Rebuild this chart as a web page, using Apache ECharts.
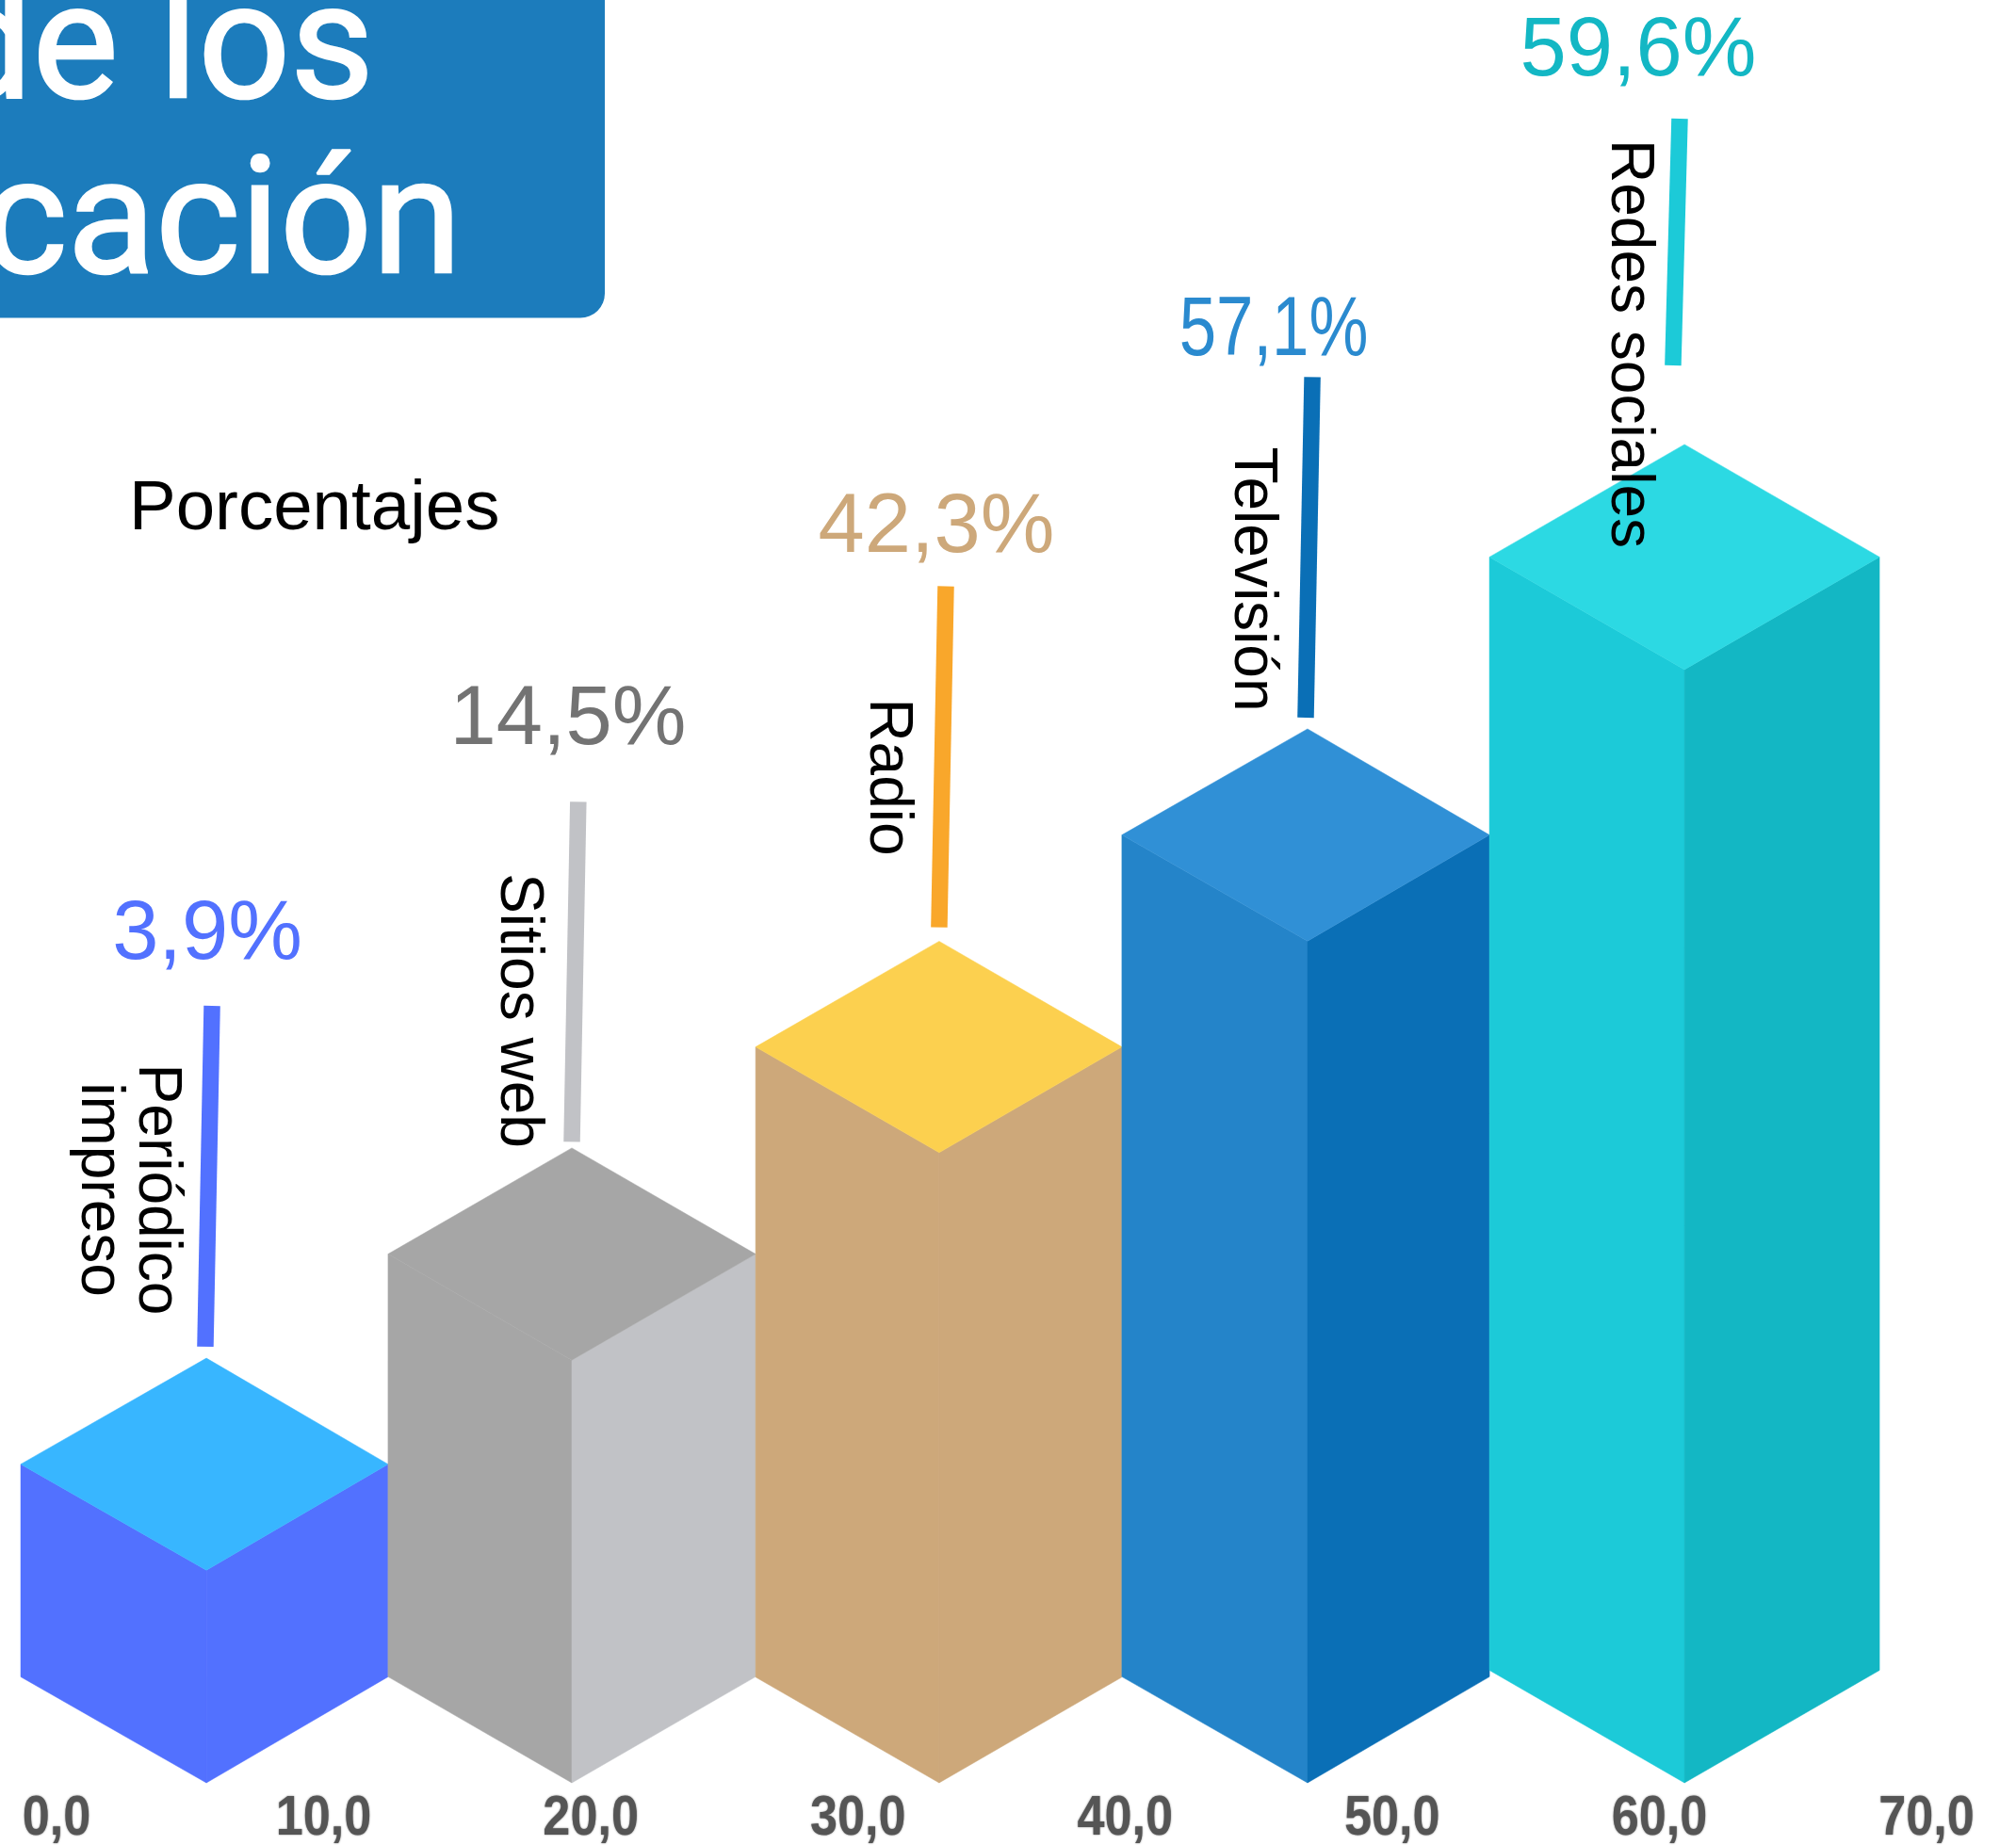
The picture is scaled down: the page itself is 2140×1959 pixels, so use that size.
<!DOCTYPE html>
<html>
<head>
<meta charset="utf-8">
<title>Medios de comunicación</title>
<script src="https://cdn.jsdelivr.net/npm/echarts@6/dist/echarts.min.js"></script>
<style>
  html, body { margin: 0; background: #fff; }
  #chart { width: 2140px; height: 1959px; }
</style>
</head>
<body>
<div id="chart"></div>
<script>
// datos
const categories = ['Periódico\nimpreso', 'Sitios web', 'Radio', 'Televisión', 'Redes sociales']
const shares = ['3,9%', '14,5%', '42,3%', '57,1%', '59,6%']
const tickValues = [0, 10, 20, 30, 40, 50, 60, 70]
const tickLabels = ['0,0', '10,0', '20,0', '30,0', '40,0', '50,0', '60,0', '70,0']
// bordes, arista frontal y alturas de las columnas, en unidades de los ejes
const columnEdges = [-1.34, 12.41, 26.17, 39.88, 53.64, 68.24]
const columnFronts = [5.61, 19.29, 33.04, 46.83, 60.94]
const columnHeights = [15.9, 23.77, 31.51, 39.46, 50.11]
const leaderFootX = [5.57, 19.29, 33.04, 46.76, 60.51]
const leaderHeadX = [5.82, 19.53, 33.29, 47.01, 60.76]
const leaderFootY = [16.33, 24.0, 32.03, 39.88, 53.07]
const leaderHeadY = [29.09, 36.73, 44.8, 52.63, 62.31]

// colores de cada columna
const leftColors = ['#5271ff', '#a6a6a6', '#cda87a', '#2484c9', '#1ccad8']
const rightColors = ['#5271ff', '#c1c2c6', '#cda87a', '#0a6fb6', '#13b7c4']
const topColors = ['#38b6ff', '#a6a6a6', '#fcd04f', '#3090d6', '#2cd9e3']
const leaderColors = ['#5271ff', '#c1c2c6', '#f9a72b', '#0a6fb6', '#1ccad8']
const shareColors = ['#5271ff', '#737373', '#cda87a', '#2a8acf', '#13b7c4']

// sitio de los textos sueltos (px)
const shareSpots = [[220, 994], [603, 766], [994, 562], [1352, 353], [1739, 56]]
const nameSpots = [[135, 1263], [550, 1073], [942, 825], [1329, 615], [1729, 365]]

const sansFont = '"Liberation Sans", Arial, sans-serif'
const ISO_SLOPE = Math.tan(Math.PI / 6)

function face (points, color) {
  return {
    type: 'polygon',
    shape: { points },
    style: { fill: color, stroke: color, lineWidth: 0.5 },
  }
}

function renderColumn (params, api) {
  const i = params.dataIndex
  const left = api.coord([api.value(0), 0])[0]
  const right = api.coord([api.value(1), 0])[0]
  const mid = api.coord([api.value(2), 0])[0]
  const depth = (right - left) / 2 * ISO_SLOPE
  const base = api.coord([0, 0])[1]
  const top = api.coord([0, api.value(3)])[1]
  return {
    type: 'group',
    children: [
      face([[left, top + depth], [mid, top + depth * 2], [mid, base], [left, base - depth]], leftColors[i]),
      face([[mid, top + depth * 2], [right, top + depth], [right, base - depth], [mid, base]], rightColors[i]),
      face([[mid, top], [right, top + depth], [mid, top + depth * 2], [left, top + depth]], topColors[i]),
    ],
  }
}

function renderLeader (params, api) {
  const foot = api.coord([api.value(0), api.value(1)])
  const head = api.coord([api.value(2), api.value(3)])
  return {
    type: 'line',
    shape: { x1: foot[0], y1: foot[1], x2: head[0], y2: head[1] },
    style: { stroke: leaderColors[params.dataIndex], lineWidth: 17.5, lineCap: 'butt' },
  }
}

// no hay fuente estrecha instalada: la etiqueta se comprime en horizontal
function renderTick (params, api) {
  const pos = api.coord([api.value(0), 0])
  return {
    type: 'text',
    x: pos[0],
    y: pos[1] + 8,
    scaleX: 0.87,
    style: {
      text: tickLabels[params.dataIndex],
      fill: '#555',
      font: 'bold 60px ' + sansFont,
      align: 'center',
      verticalAlign: 'top',
      textShadowColor: '#777',
      textShadowBlur: 2,
    },
  }
}

const shareTexts = shares.map((text, i) => ({
  type: 'text',
  z: 100,
  x: shareSpots[i][0],
  y: shareSpots[i][1],
  scaleX: i === 3 ? 0.8 : 1,
  style: {
    text,
    fill: shareColors[i],
    font: '88.5px ' + sansFont,
    align: 'center',
    verticalAlign: 'middle',
  },
}))

const nameTexts = categories.map((text, i) => ({
  type: 'text',
  z: 100,
  x: nameSpots[i][0],
  y: nameSpots[i][1],
  rotation: -Math.PI / 2,
  style: {
    text,
    fill: '#000',
    font: '64px ' + sansFont,
    lineHeight: 61,
    align: 'center',
    verticalAlign: 'middle',
  },
}))

// el titulo queda cortado por el borde de la imagen, como en el original
const titleStyle = {
  fill: '#fff',
  stroke: '#fff',
  lineWidth: 2.5,
  font: '172px Roboto, sans-serif',
  align: 'right',
  verticalAlign: 'middle',
}

const chart = echarts.init(document.getElementById('chart'), null, { renderer: 'canvas' })
chart.setOption({
  animation: false,
  backgroundColor: '#fff',
  grid: { left: 60, right: 95, top: 0, bottom: 66, containLabel: false },
  xAxis: {
    type: 'value',
    min: 0,
    max: 70,
    interval: 10,
    splitLine: { show: false },
    axisLine: { show: false },
    axisTick: { show: false },
    axisLabel: { show: false },
  },
  yAxis: {
    type: 'value',
    min: 0,
    max: 66.75,
    show: false,
  },
  graphic: [
    {
      type: 'rect',
      z: 50,
      shape: { x: -40, y: -40, width: 682, height: 377.5, r: 26 },
      style: { fill: '#1c7cbc' },
    },
    { type: 'text', z: 51, x: 397, y: 60, style: { ...titleStyle, text: 'de los' } },
    { type: 'text', z: 51, x: 490, y: 246, style: { ...titleStyle, text: 'cación' } },
    { type: 'text', z: 100, x: 137, y: 541, style: { text: 'Porcentajes', fill: '#000', font: '74.5px ' + sansFont, align: 'left', verticalAlign: 'middle' } },
    ...shareTexts,
    ...nameTexts,
  ],
  series: [
    {
      type: 'custom',
      clip: false,
      renderItem: renderColumn,
      encode: { x: [0, 1, 2], y: 3 },
      data: columnHeights.map((h, i) => [columnEdges[i], columnEdges[i + 1], columnFronts[i], h]),
    },
    {
      type: 'custom',
      clip: false,
      renderItem: renderLeader,
      encode: { x: [0, 2], y: [1, 3] },
      data: leaderFootX.map((x, i) => [x, leaderFootY[i], leaderHeadX[i], leaderHeadY[i]]),
    },
    {
      type: 'custom',
      clip: false,
      renderItem: renderTick,
      encode: { x: 0 },
      data: tickValues.map(v => [v]),
    },
  ],
})
</script>
</body>
</html>
